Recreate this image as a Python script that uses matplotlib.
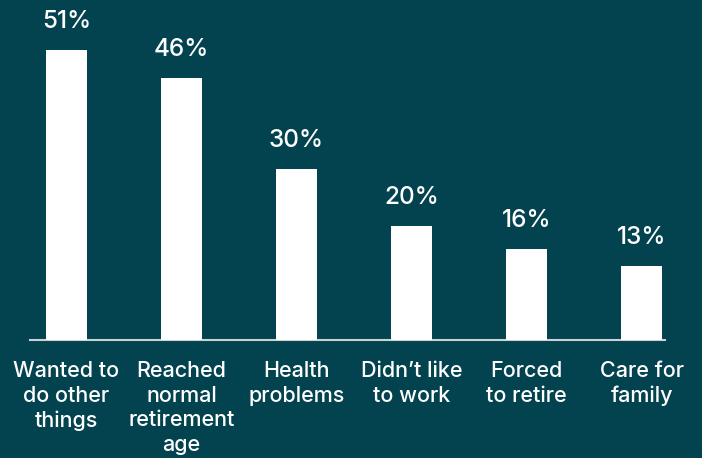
import matplotlib
matplotlib.use("Agg")
import matplotlib.pyplot as plt
import numpy as np

# reasons for retiring, share of respondents (%)
reasons = ["Wanted to\ndo other\nthings", "Reached\nnormal\nretirement\nage",
           "Health\nproblems", "Didn\u2019t like\nto work", "Forced\nto retire",
           "Care for\nfamily"]
shares = [51, 46, 30, 20, 16, 13]

bg = "#02434f"
plt.rcParams["font.family"] = ["Inter", "DejaVu Sans"]

fig = plt.figure(figsize=(7.02, 4.58), dpi=100, facecolor=bg)
# axes box: 30..665 px across, bottom edge at 340 px from the top
ax = fig.add_axes([30 / 702, 118 / 458, 635 / 702, 330 / 458])
ax.set_facecolor(bg)

x = np.arange(len(shares))
ax.bar(x, shares, width=0.357, color="white", zorder=3)

ax.set_xlim(-0.317, 5.204)
ax.set_ylim(0, 58.04)

for xi, v in zip(x, shares):
    ax.annotate(f"{v}%", (xi, v), xytext=(0, 16), textcoords="offset points",
                ha="center", va="baseline", color="white", fontsize=17.5,
                fontweight="medium", annotation_clip=False)

ax.set_xticks(x)
ax.set_xticklabels(reasons, color="white", fontsize=15.5, va="top",
                   fontweight="medium", linespacing=1.3)
ax.tick_params(axis="x", length=0, pad=15)
ax.set_yticks([])

for side in ["top", "right", "left"]:
    ax.spines[side].set_visible(False)
ax.spines["bottom"].set_color("#c9d3d5")
ax.spines["bottom"].set_linewidth(1.5)

fig.savefig("out.png", dpi=100, facecolor=bg)
